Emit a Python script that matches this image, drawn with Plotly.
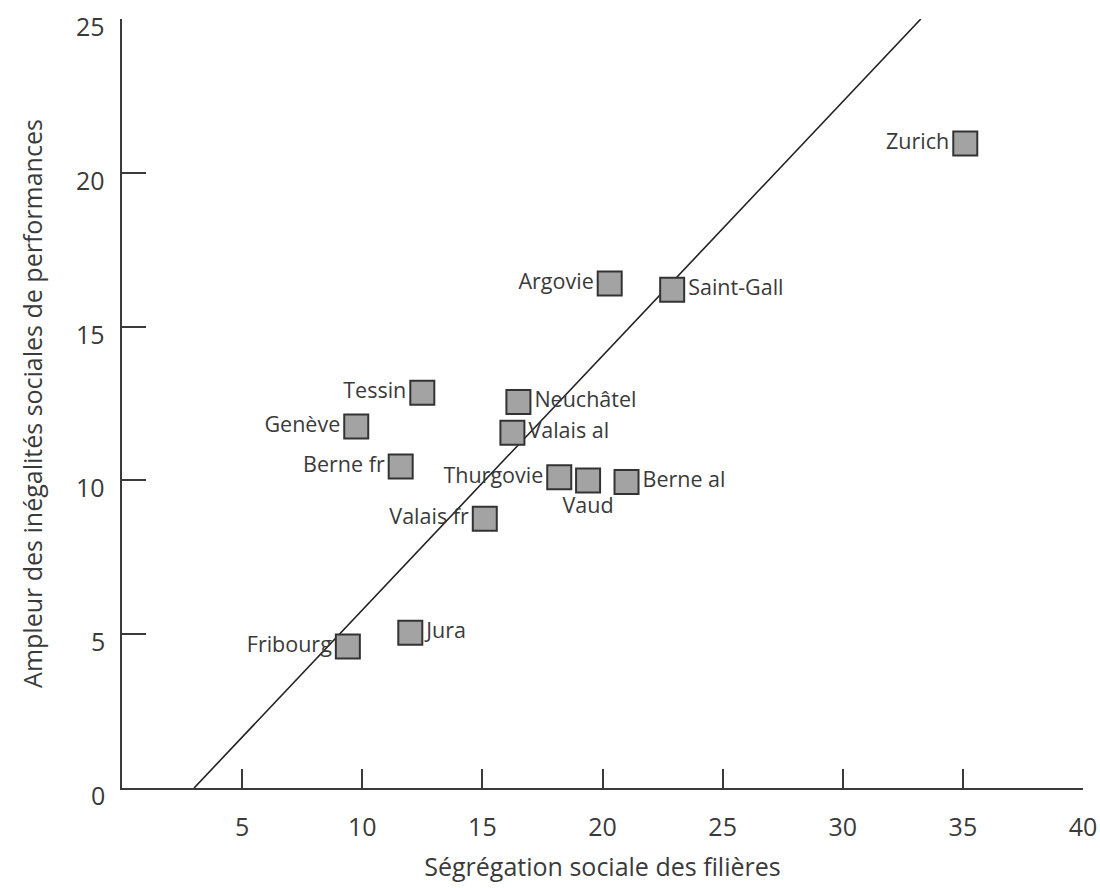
import plotly.graph_objects as go

cantons = ["Zurich", "Argovie", "Saint-Gall", "Tessin", "Neuchâtel", "Genève",
           "Valais al", "Berne fr", "Thurgovie", "Vaud", "Berne al", "Valais fr",
           "Jura", "Fribourg"]
segregation = [35.1, 20.3, 22.9, 12.5, 16.5, 9.75, 16.25, 11.6, 18.2, 19.4, 21.0, 15.1, 12.0, 9.4]
inegalites = [20.95, 16.4, 16.2, 12.85, 12.55, 11.75, 11.55, 10.45, 10.1, 10.0, 9.95, 8.75, 5.05, 4.6]
label_pos = ["middle left", "middle left", "middle right", "middle left", "middle right",
             "middle left", "middle right", "middle left", "middle left", "bottom center",
             "middle right", "middle left", "middle right", "middle left"]

trend_x = [3.0, 33.25]
trend_y = [0.0, 25.0]

x_ticks = [5, 10, 15, 20, 25, 30, 35, 40]
y_ticks = [0, 5, 10, 15, 20, 25]

font = "Open Sans"
ink = "#3a3a3a"

fig = go.Figure()
fig.add_trace(go.Scatter(x=trend_x, y=trend_y, mode="lines",
                         line=dict(color="#222222", width=1.6),
                         hoverinfo="skip", cliponaxis=False))
fig.add_trace(go.Scatter(
    x=segregation, y=inegalites, mode="markers+text",
    text=cantons, textposition=label_pos,
    textfont=dict(family=font, size=21.5, color=ink),
    marker=dict(symbol="square", size=24, color="#a3a3a3",
                line=dict(color="#333333", width=2)),
    cliponaxis=False))

# y tick labels sit slightly below their ticks in the reference
for v in y_ticks:
    fig.add_annotation(x=0, xref="paper", y=v, yref="y", text=str(v),
                       showarrow=False, xanchor="right", yanchor="middle",
                       xshift=-15, yshift=-7,
                       font=dict(size=25, family=font, color=ink))

fig.update_layout(
    width=1100, height=888,
    margin=dict(l=122, r=17, t=19, b=100),
    paper_bgcolor="white", plot_bgcolor="white",
    showlegend=False,
    font=dict(family=font, color=ink),
    xaxis=dict(range=[0, 40], tickvals=x_ticks, ticks="inside", ticklen=19,
               tickwidth=2, tickcolor=ink, showline=True, linecolor=ink,
               linewidth=2, showgrid=False, zeroline=False, automargin=False,
               ticklabelstandoff=16, ticklabeloverflow="allow",
               tickfont=dict(size=25, family=font, color=ink),
               title=dict(text="Ségrégation sociale des filières",
                          font=dict(size=25, family=font, color=ink), standoff=16)),
    yaxis=dict(range=[0, 25], tickvals=y_ticks, ticks="inside", ticklen=24,
               tickwidth=2, tickcolor=ink, showline=True, linecolor=ink,
               linewidth=2, showgrid=False, zeroline=False, automargin=False,
               showticklabels=False,
               title=dict(text="Ampleur des inégalités sociales de performances",
                          font=dict(size=25, family=font, color=ink), standoff=70)),
)

# remove the page's default body margin so the 1100x888 figure fills the window exactly
fig.write_html("out.html", config={"displayModeBar": False},
               post_script="document.body.style.margin='0';document.body.style.overflow='hidden';")
